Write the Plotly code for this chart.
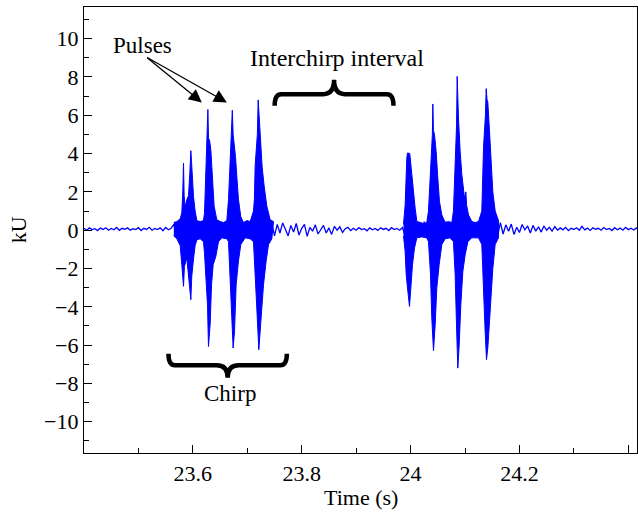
import plotly.graph_objects as go

# ---------------- data ----------------
# Background (noise) trace: one reading every 5 ms starting at 23.400 s (kU)
noise_t0 = 23.400
noise_dt = 0.005
kU_noise = [
    # 23.400 - 23.560 quiet
    0.10, 0.00, 0.12, 0.03, 0.08, -0.02, 0.11, 0.04, 0.13, 0.00,
    0.09, 0.02, 0.14, -0.01, 0.10, 0.05, 0.12, 0.00, 0.08, 0.03,
    0.13, -0.02, 0.10, 0.04, 0.15, 0.00, 0.09, 0.03, 0.12, -0.03,
    0.14, 0.02, 0.10,
    # 23.565 - 23.750 inside chirp 1
    0.30, -0.25, 0.35, -0.30, 0.40, -0.35, 0.30, -0.30, 0.45, -0.40,
    0.35, -0.30, 0.40, -0.35, 0.30, -0.25, 0.45, -0.40, 0.35, -0.30,
    0.40, -0.35, 0.30, -0.25, 0.40, -0.40, 0.35, -0.30, 0.45, -0.35,
    0.30, -0.30, 0.40, -0.35, 0.35, -0.30, 0.40, -0.30,
    # 23.755 - 23.985 interchirp interval
    0.30, -0.15, 0.38, 0.05, -0.30, 0.25, -0.10, 0.35, -0.25, 0.10,
    0.30, -0.32, 0.15, -0.05, 0.28,
    -0.20, 0.05, 0.25, -0.15, 0.12, -0.22, 0.20, 0.00, 0.18, -0.12, 0.08,
    0.15, -0.02, 0.10, 0.00, 0.13, 0.03, 0.08, -0.03, 0.12, 0.02,
    0.09, -0.01, 0.12, 0.04, 0.10, -0.02, 0.13, 0.03, 0.09, 0.00, 0.14,
    # 23.990 - 24.165 inside chirp 2
    -0.30, 0.35, -0.30, 0.40, -0.35, 0.30, -0.30, 0.45, -0.40, 0.35,
    -0.30, 0.40, -0.35, 0.30, -0.25, 0.45, -0.40, 0.35, -0.30, 0.40,
    -0.35, 0.30, -0.25, 0.40, -0.40, 0.35, -0.30, 0.45, -0.35, 0.30,
    -0.30, 0.40, -0.35, 0.35, -0.30, 0.40,
    # 24.170 - 24.265 after chirp 2
    -0.20, 0.28, -0.05, 0.32, -0.22, 0.15, -0.12, 0.30, 0.02, 0.22,
    -0.15, 0.25, -0.05, 0.18, -0.10, 0.22, 0.00, 0.15, -0.05, 0.18,
    # 24.270 - 24.420 quiet
    0.00, 0.12, 0.02, 0.15, -0.02, 0.10, 0.04, 0.13, 0.00, 0.20,
    0.02, 0.11, -0.01, 0.12, 0.05, 0.10, 0.00, 0.14, 0.03, 0.09,
    -0.02, 0.13, 0.02, 0.11, 0.00, 0.15, 0.03, 0.10, 0.01, 0.12, 0.04,
]

# Chirp 1 envelope (s, kU)
c1_t_upper = [
    23.565, 23.5706, 23.5767, 23.5797, 23.5815, 23.5828, 23.5840, 23.5859, 23.5889, 23.5920,
    23.5945, 23.5963, 23.5975, 23.5990, 23.6012, 23.6042, 23.6073, 23.6134, 23.6195, 23.6214,
    23.6244, 23.6265, 23.6276, 23.6288, 23.6306, 23.6330, 23.6355, 23.6391, 23.6440, 23.6502,
    23.6563, 23.6624, 23.6655, 23.6685, 23.6710, 23.6725, 23.6740, 23.6783, 23.6808, 23.6838,
    23.6881, 23.6930, 23.6992, 23.7053, 23.7114, 23.7130, 23.7145, 23.7185, 23.7200, 23.7224,
    23.7249, 23.7273, 23.7310, 23.7359, 23.7420, 23.7481,
]
c1_kU_upper = [
    0.40, 0.45, 0.60, 0.90, 2.00, 3.50, 1.80, 1.20, 1.60, 1.80,
    3.00, 4.15, 3.60, 2.60, 1.75, 1.00, 0.50, 0.45, 0.50, 0.90,
    3.20, 4.50, 6.30, 4.80, 4.70, 4.20, 2.80, 1.25, 0.55, 0.45,
    0.40, 0.50, 1.60, 3.85, 4.80, 6.26, 5.00, 3.85, 2.80, 1.60,
    0.70, 0.40, 0.50, 0.45, 1.00, 1.60, 3.40, 5.00, 6.80, 5.60,
    4.40, 3.30, 2.30, 1.25, 0.55, 0.45,
]
c1_t_lower = [
    23.565, 23.5706, 23.5767, 23.5797, 23.5828, 23.5845, 23.5889, 23.5920, 23.5963, 23.5980,
    23.6012, 23.6042, 23.6073, 23.6134, 23.6195, 23.6214, 23.6244, 23.6269, 23.6287, 23.6318,
    23.6343, 23.6373, 23.6422, 23.6471, 23.6532, 23.6624, 23.6655, 23.6685, 23.6716, 23.6740,
    23.6765, 23.6795, 23.6838, 23.6881, 23.6961, 23.7053, 23.7114, 23.7145, 23.7175, 23.7212,
    23.7236, 23.7267, 23.7298, 23.7347, 23.7390, 23.7451,
]
c1_kU_lower = [
    -0.30, -0.45, -0.80, -1.80, -2.93, -1.90, -1.45, -2.30, -3.63, -2.40,
    -1.50, -0.80, -0.50, -0.45, -0.60, -1.20, -2.30, -3.90, -6.07, -4.90,
    -2.85, -1.80, -1.37, -0.60, -0.40, -0.45, -0.60, -2.30, -4.60, -6.15,
    -5.30, -2.85, -1.60, -0.75, -0.40, -0.45, -0.60, -2.30, -4.06, -6.24,
    -5.50, -4.06, -2.85, -1.60, -0.75, -0.45,
]

# Chirp 2 envelope (s, kU)
c2_t_upper = [
    23.9870, 23.9900, 23.9931, 23.9943, 23.9985, 24.0023, 24.0054, 24.0084, 24.0115, 24.0176,
    24.0237, 24.0298, 24.0329, 24.0372, 24.0400, 24.0409, 24.0420, 24.0439, 24.0470, 24.0501,
    24.0531, 24.0574, 24.0635, 24.0696, 24.0758, 24.0788, 24.0819, 24.0845, 24.0856, 24.0868,
    24.0880, 24.0911, 24.0942, 24.0984, 24.1003, 24.1015, 24.1030, 24.1064, 24.1125, 24.1187,
    24.1248, 24.1309, 24.1340, 24.1375, 24.1389, 24.1405, 24.1419, 24.1450, 24.1480, 24.1511,
    24.1554, 24.1615,
]
c2_kU_upper = [
    0.30, 1.30, 3.77, 4.03, 4.00, 2.90, 1.70, 1.15, 0.46, 0.40,
    0.35, 0.40, 1.00, 3.40, 5.00, 6.59, 5.20, 5.00, 4.10, 2.70,
    1.50, 0.80, 0.40, 0.45, 0.40, 1.00, 3.40, 5.50, 8.03, 6.20,
    5.86, 4.10, 2.90, 1.85, 1.70, 2.00, 1.30, 0.80, 0.45, 0.40,
    0.45, 1.00, 4.30, 6.00, 7.39, 6.80, 6.70, 5.16, 3.25, 2.00,
    1.00, 0.50,
]
c2_t_lower = [
    23.9870, 23.9900, 23.9919, 23.9950, 23.9980, 24.0005, 24.0035, 24.0072, 24.0115, 24.0207,
    24.0298, 24.0329, 24.0366, 24.0390, 24.0421, 24.0452, 24.0482, 24.0525, 24.0574, 24.0635,
    24.0727, 24.0788, 24.0819, 24.0844, 24.0868, 24.0893, 24.0923, 24.0960, 24.1003, 24.1052,
    24.1125, 24.1248, 24.1309, 24.1340, 24.1370, 24.1395, 24.1419, 24.1450, 24.1480, 24.1511,
    24.1554, 24.1615,
]
c2_kU_lower = [
    -0.30, -1.10, -2.30, -3.20, -3.98, -3.00, -1.80, -0.93, -0.40, -0.35,
    -0.40, -0.60, -2.30, -4.60, -6.29, -4.93, -3.00, -1.80, -0.75, -0.45,
    -0.40, -0.60, -2.30, -4.93, -7.20, -6.00, -3.90, -2.15, -1.28, -0.60,
    -0.40, -0.40, -0.75, -3.20, -5.28, -6.76, -6.15, -4.76, -3.20, -2.00,
    -0.75, -0.40,
]

x_tick_vals = [23.6, 23.8, 24.0, 24.2, 24.4]
x_tick_text = ["23.6", "23.8", "24", "24.2", ""]
y_tick_vals = [-10, -8, -6, -4, -2, 0, 2, 4, 6, 8, 10]

# ---------------- figure ----------------
FONT = "Liberation Serif, Times New Roman, serif"
BLUE = "#0000ff"

fig = go.Figure()

t_noise = [noise_t0 + i * noise_dt for i in range(len(kU_noise))]
fig.add_trace(go.Scatter(
    x=t_noise, y=kU_noise, mode="lines",
    line=dict(color=BLUE, width=1.3),
    hoverinfo="skip", showlegend=False,
))

for tu, vu, tl, vl in ((c1_t_upper, c1_kU_upper, c1_t_lower, c1_kU_lower),
                       (c2_t_upper, c2_kU_upper, c2_t_lower, c2_kU_lower)):
    fig.add_trace(go.Scatter(
        x=tu + tl[::-1], y=vu + vl[::-1],
        mode="lines", fill="toself", fillcolor=BLUE,
        line=dict(color=BLUE, width=1),
        hoverinfo="skip", showlegend=False,
    ))


def brace(x0, x1, y_end, y_mid, y_tip, r_end, r_mid):
    xm = (x0 + x1) / 2
    return (f"M {x0},{y_end} Q {x0},{y_mid} {x0 + r_end},{y_mid} "
            f"L {xm - r_mid},{y_mid} Q {xm},{y_mid} {xm},{y_tip} "
            f"Q {xm},{y_mid} {xm + r_mid},{y_mid} "
            f"L {x1 - r_end},{y_mid} Q {x1},{y_mid} {x1},{y_end}")


fig.add_shape(type="path", xref="x", yref="y",
              path=brace(23.7503, 23.9686, 6.50, 7.10, 7.85, 0.012, 0.02),
              line=dict(color="black", width=4.5))
fig.add_shape(type="path", xref="x", yref="y",
              path=brace(23.5552, 23.7727, -6.45, -7.05, -7.70, 0.012, 0.02),
              line=dict(color="black", width=4.5))

txt = dict(family=FONT, size=23, color="black")
fig.add_annotation(x=23.5078, y=9.65, text="Pulses", showarrow=False, font=txt)
fig.add_annotation(x=23.864, y=9.0, text="Interchirp interval", showarrow=False,
                   font=dict(family=FONT, size=24, color="black"))
fig.add_annotation(x=23.668, y=-8.55, text="Chirp", showarrow=False, font=txt)
for tip_x in (23.6165, 23.6625):
    fig.add_annotation(x=tip_x, y=6.67, ax=23.5133, ay=9.06, axref="x", ayref="y",
                       xref="x", yref="y", text="", showarrow=True,
                       arrowhead=2, arrowsize=2.0, arrowwidth=1.3, arrowcolor="black")

# axis titles (placed in paper coordinates)
ttl = dict(family=FONT, size=22, color="black")
fig.add_annotation(x=0.5, y=-0.099, xref="paper", yref="paper", text="Time (s)",
                   showarrow=False, font=ttl, yanchor="middle")
fig.add_annotation(x=-0.119, y=0.5, xref="paper", yref="paper", text="kU",
                   showarrow=False, font=ttl, textangle=-90, xanchor="center")

axis_common = dict(
    showline=True, linecolor="black", linewidth=1.2, mirror=True,
    ticks="inside", ticklen=8, tickwidth=1.2, tickcolor="black",
    showgrid=False, zeroline=False, automargin=False,
    tickfont=dict(family=FONT, size=22, color="black"),
)
fig.update_xaxes(
    range=[23.4, 24.416],
    tickmode="array", tickvals=x_tick_vals, ticktext=x_tick_text,
    minor=dict(ticks="inside", ticklen=5, tickwidth=1.2, tickcolor="black", dtick=0.1, tick0=23.4),
    **axis_common,
)
fig.update_yaxes(
    range=[-11.63, 11.65],
    tickmode="array", tickvals=y_tick_vals,
    minor=dict(ticks="inside", ticklen=5, tickwidth=1.2, tickcolor="black", dtick=1, tick0=0),
    **axis_common,
)
fig.update_layout(
    width=638, height=514,
    margin=dict(l=84, r=1, t=7, b=61),
    paper_bgcolor="white", plot_bgcolor="white",
    showlegend=False,
)
fig.write_html(
    "out.html",
    config={"responsive": False, "displayModeBar": False},
    post_script=("document.body.style.margin='0';"
                 "document.body.style.overflow='hidden';"),
)
